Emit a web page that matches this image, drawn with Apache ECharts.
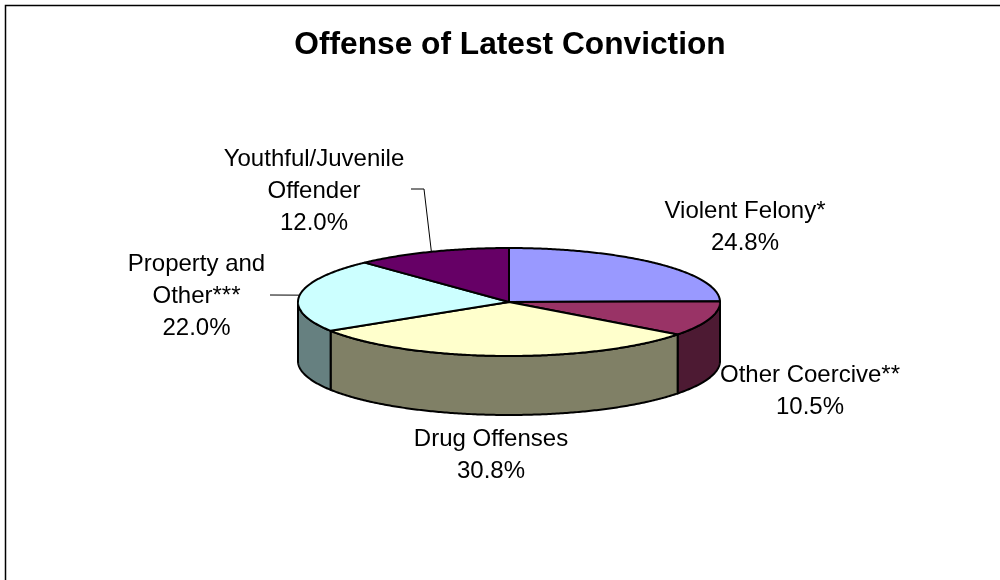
<!DOCTYPE html>
<html>
<head>
<meta charset="utf-8">
<style>
  html, body { margin: 0; padding: 0; background: #ffffff; }
  #chart { width: 1000px; height: 580px; }
</style>
<script src="https://cdn.jsdelivr.net/npm/echarts@6/dist/echarts.min.js"></script>
</head>
<body>
<div id="chart"></div>
<script>
// Share of people by offense of latest conviction
const categories = ['Violent Felony*', 'Other Coercive**', 'Drug Offenses', 'Property and\nOther***', 'Youthful/Juvenile\nOffender'];
const shares = [24.8, 10.5, 30.8, 22.0, 12.0];
const topColors = ['#9999FF', '#993366', '#FFFFCC', '#CCFFFF', '#660066'];
const wallColors = ['#4D4D80', '#4D1A33', '#808066', '#668080', '#330033'];
// Label anchor points (centre x, top y of the text block)
const labelAnchors = [[745, 195], [810, 359.5], [491, 423.5], [196.5, 248], [314, 143]];
// Leader lines start here and run to the rim of the slice; null means no leader
const leaderStarts = [null, null, null, [270, 295], [411, 189]];

const PIE = { cx: 509, cy: 302, rx: 211, ry: 54, depth: 59 };
const total = shares.reduce((a, b) => a + b, 0);

function rimPoint(angle, drop) {
  return [PIE.cx + PIE.rx * Math.sin(angle), PIE.cy - PIE.ry * Math.cos(angle) + (drop || 0)];
}

function arcPoints(from, to, drop) {
  const steps = Math.max(2, Math.ceil((to - from) / 0.01));
  const pts = [];
  for (let i = 0; i <= steps; i++) pts.push(rimPoint(from + (to - from) * i / steps, drop));
  return pts;
}

function renderSlice(params, api) {
  const i = params.dataIndex;
  const before = shares.slice(0, i).reduce((a, b) => a + b, 0);
  const start = before / total * 2 * Math.PI;
  const end = (before + api.value(0)) / total * 2 * Math.PI;
  const children = [];
  const edge = { stroke: '#000000', lineWidth: 2, lineJoin: 'round' };

  // Outer wall: only the part of the slice on the near half of the rim
  const wallFrom = Math.max(start, Math.PI / 2);
  const wallTo = Math.min(end, 3 * Math.PI / 2);
  if (wallTo > wallFrom) {
    const upper = arcPoints(wallFrom, wallTo, 0);
    const lower = arcPoints(wallFrom, wallTo, PIE.depth).reverse();
    children.push({
      type: 'polygon',
      shape: { points: upper.concat(lower) },
      style: Object.assign({ fill: wallColors[i] }, edge)
    });
  }

  // Top face
  children.push({
    type: 'polygon',
    z2: 5,
    shape: { points: [[PIE.cx, PIE.cy]].concat(arcPoints(start, end, 0)) },
    style: Object.assign({ fill: topColors[i] }, edge)
  });

  // Leader line to the middle of the rim arc
  if (leaderStarts[i]) {
    const s = leaderStarts[i];
    const tip = rimPoint((start + end) / 2, 0);
    const pts = i === 4 ? [s, [s[0] + 13, s[1]], tip] : [s, tip];
    children.push({
      type: 'polyline',
      z2: 1,
      shape: { points: pts },
      style: { fill: null, stroke: '#000000', lineWidth: 1 }
    });
  }

  // Category name and percentage
  children.push({
    type: 'text',
    z2: 10,
    x: labelAnchors[i][0],
    y: labelAnchors[i][1],
    style: {
      text: categories[i] + '\n' + shares[i].toFixed(1) + '%',
      fill: '#000000',
      font: '24px "Liberation Sans", Arial, sans-serif',
      lineHeight: 32,
      align: 'center',
      verticalAlign: 'top'
    }
  });

  return { type: 'group', children };
}

const chart = echarts.init(document.getElementById('chart'), null, { renderer: 'canvas' });
chart.setOption({
  animation: false,
  backgroundColor: '#ffffff',
  title: {
    text: 'Offense of Latest Conviction',
    left: 505,
    top: 24,
    textAlign: 'center',
    textStyle: { fontFamily: '"Liberation Sans", Arial, sans-serif', fontSize: 31.7, fontWeight: 'bold', color: '#000000' }
  },
  graphic: [{
    type: 'polyline',
    shape: { points: [[5.5, 580], [5.5, 5.5], [1000, 5.5]] },
    style: { fill: null, stroke: '#000000', lineWidth: 1.5 }
  }],
  series: [{
    type: 'custom',
    coordinateSystem: 'none',
    renderItem: renderSlice,
    data: shares.map((v, i) => ({ name: categories[i], value: [v] }))
  }]
});
</script>
</body>
</html>
